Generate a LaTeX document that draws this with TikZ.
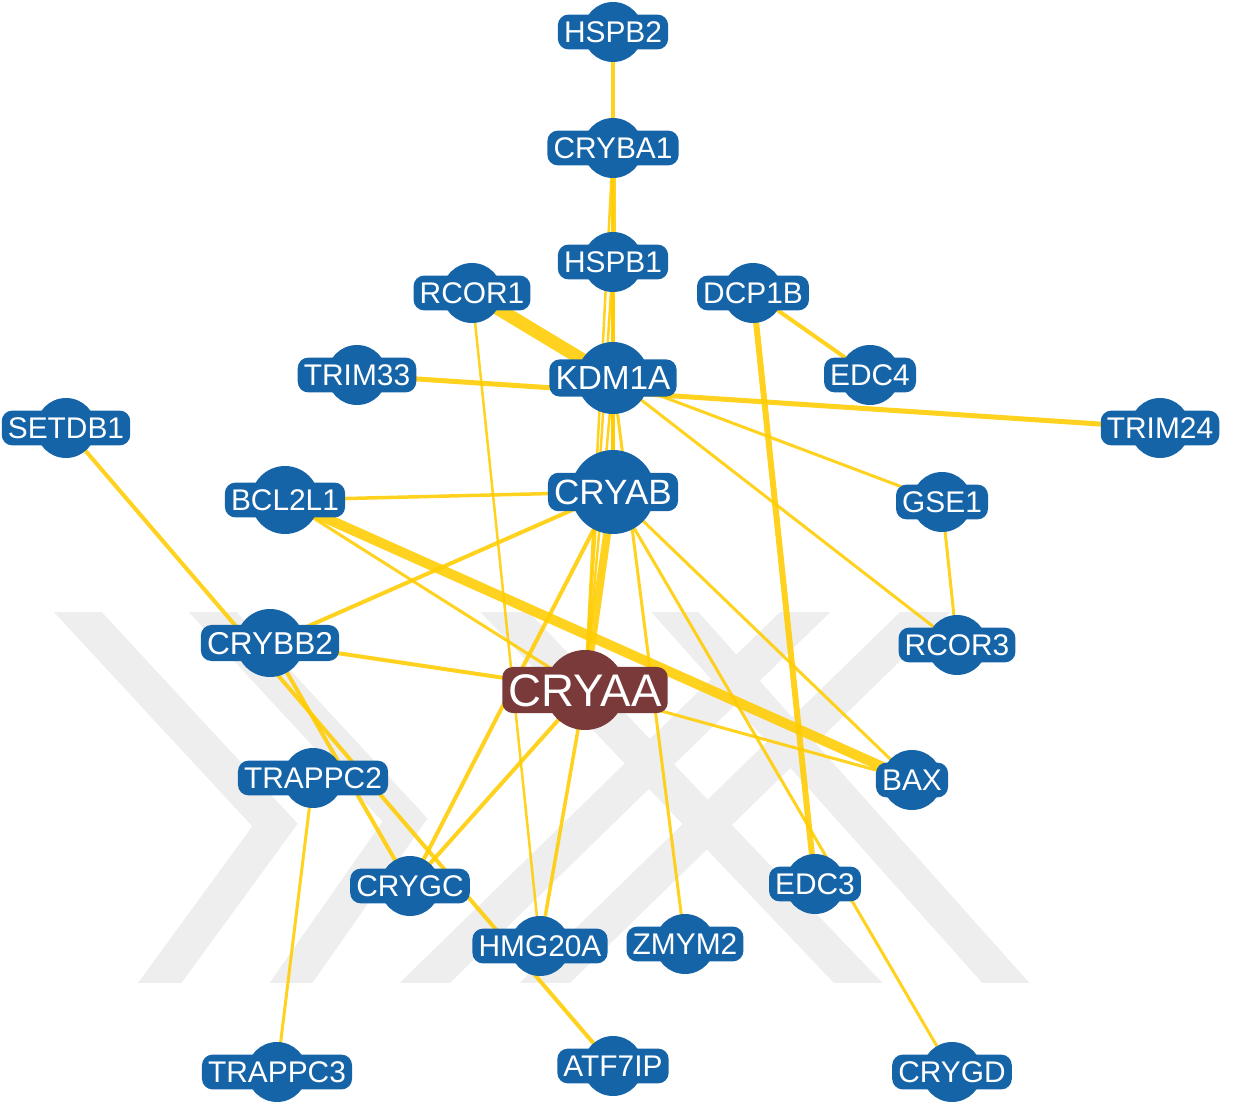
\documentclass[tikz,border=0pt]{standalone}
\usepackage{fontspec}
\setmainfont{Liberation Sans}
\definecolor{geneblue}{RGB}{22, 100, 168}
\definecolor{seedred}{RGB}{122, 58, 58}
\definecolor{linkgold}{RGB}{255, 204, 0}
\definecolor{markgray}{RGB}{238, 238, 238}
\usepackage{tikz}
\usetikzlibrary{backgrounds}

\begin{document}
\begin{tikzpicture}[x=0.02cm, y=-0.02cm,
  gene/.style={circle, fill=geneblue, inner sep=0pt, minimum size=1.2cm},
  genetag/.style={rectangle, rounded corners=6pt, fill=geneblue, text=white,
    inner xsep=3.5pt, inner ysep=3.8pt, text height=12.2pt, text depth=0pt,
    font=\fontsize{17}{17}\selectfont},
  link/.style={draw=linkgold, opacity=0.88, line width=#1*0.57pt},
  link/.default=3,
  markband/.style={draw=markgray, line width=20pt, line join=miter}]
  \useasboundingbox (0,0) rectangle (1233,1108);
  % Genes
  \foreach \n/\x/\y in {HSPB2/613/32, CRYBA1/613/148, HSPB1/613/262,
      RCOR1/472/293, DCP1B/753/293, TRIM33/357/375, EDC4/870/375,
      SETDB1/66/428, TRIM24/1160/428, GSE1/942/502, RCOR3/957/645,
      TRAPPC2/313/778, BAX/912/780, CRYGC/410/886, EDC3/815/884,
      HMG20A/540/946, ZMYM2/685/944, TRAPPC3/277/1072, ATF7IP/613/1066,
      CRYGD/952/1072} {
    \node[gene, label={[genetag]center:\n}] (\n) at (\x,\y) {};
  }
  \node[gene, minimum size=1.36cm, label={[genetag]center:BCL2L1}]
    (BCL2L1) at (285,500) {};
  \node[gene, minimum size=1.36cm,
        label={[genetag, font=\fontsize{18}{18}\selectfont, text height=12.9pt]center:CRYBB2}]
    (CRYBB2) at (270,643) {};
  \node[gene, minimum size=1.44cm,
        label={[genetag, font=\fontsize{19}{19}\selectfont, text height=13.6pt]center:KDM1A}]
    (KDM1A) at (613,378) {};
  \node[gene, minimum size=1.68cm,
        label={[genetag, font=\fontsize{20}{20}\selectfont, text height=14.3pt]center:CRYAB}]
    (CRYAB) at (613,492) {};
  % Seed
  \node[gene, fill=seedred, minimum size=1.6cm,
        label={[genetag, fill=seedred, font=\fontsize{26}{26}\selectfont, text height=18.6pt]center:CRYAA}]
    (CRYAA) at (585,690) {};
  \begin{scope}[on background layer]
    % Watermark
    \begin{scope}
      \clip (0,612) rectangle (1233,982);
      \draw[markband] (50,582) -- (275,825) -- (140,1010);
      \draw[markband] (185,582) -- (405,820) -- (272,1010);
      \draw[markband] (476,582) -- (884,1010);
      \draw[markband] (836,582) -- (397,1010);
      \draw[markband] (648,582) -- (1030,1010);
      \draw[markband] (956,582) -- (517,1010);
    \end{scope}
    % Interactions
    \foreach \a/\b/\w in {HSPB2/CRYBA1/4.5, CRYBA1/HSPB1/5, CRYBA1/CRYAB/2.5,
        CRYBA1/CRYAA/2.5, HSPB1/KDM1A/3.5, HSPB1/CRYAB/3.5, HSPB1/CRYAA/2.5,
        KDM1A/CRYAB/3.5, KDM1A/CRYAA/2.5, CRYAB/CRYAA/8, RCOR1/KDM1A/13,
        RCOR1/HMG20A/2.5, TRIM33/TRIM24/5, KDM1A/GSE1/3, KDM1A/RCOR3/3,
        KDM1A/ZMYM2/3, DCP1B/EDC4/4, DCP1B/EDC3/6, GSE1/RCOR3/3,
        BCL2L1/CRYAB/3.5, BCL2L1/BAX/10, BCL2L1/CRYAA/3, SETDB1/ATF7IP/4,
        CRYBB2/CRYAB/4, CRYBB2/CRYAA/4, CRYBB2/CRYGC/4, CRYAB/CRYGC/4,
        CRYAA/CRYGC/4, CRYAA/HMG20A/3.5, CRYAB/BAX/3, CRYAB/CRYGD/3,
        CRYAA/BAX/3, TRAPPC2/TRAPPC3/3} {
      \draw[link=\w] (\a.center) -- (\b.center);
    }
  \end{scope}
\end{tikzpicture}
\end{document}
